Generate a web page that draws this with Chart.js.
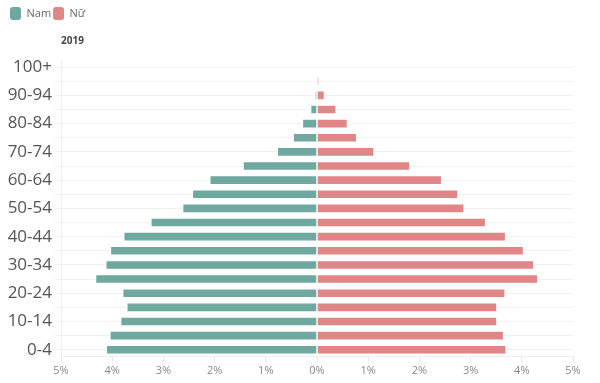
<!DOCTYPE html>
<html>
<head>
<meta charset="utf-8">
<script src="https://cdn.jsdelivr.net/npm/chart.js@4"></script>
<style>
  html, body { margin: 0; padding: 0; background: #fff; }
  #wrap { width: 600px; height: 383px; }
</style>
</head>
<body>
<div id="wrap"><canvas id="canvas"></canvas></div>
<script>
// nhóm tuổi, từ trên xuống
var ageGroups = ["100+","95-99","90-94","85-89","80-84","75-79","70-74","65-69","60-64","55-59",
                 "50-54","45-49","40-44","35-39","30-34","25-29","20-24","15-19","10-14","5-9","0-4"];
// % dân số
var maleValues = [0.005, 0.01, 0.04, 0.13, 0.29, 0.47, 0.78, 1.45, 2.10, 2.44,
                  2.63, 3.25, 3.78, 4.04, 4.13, 4.33, 3.80, 3.72, 3.84, 4.05, 4.12];
var femaleValues = [0.01, 0.04, 0.15, 0.38, 0.60, 0.78, 1.12, 1.82, 2.44, 2.76,
                    2.88, 3.30, 3.69, 4.04, 4.24, 4.32, 3.68, 3.52, 3.52, 3.65, 3.70];
var xTicks = [-5, -4, -3, -2, -1, 0, 1, 2, 3, 4, 5];

Chart.defaults.font.family = "'Open Sans', sans-serif";

window.onload = function(){
    var ctx = document.getElementById("canvas").getContext("2d");
    window.myBar = new Chart(ctx, {
        type: 'bar',
        data: {
            labels: ageGroups,
            datasets: [
                {
                    label: "Nam",
                    data: maleValues.map(function(v){ return -v; }),
                    backgroundColor: '#6fa89f',
                    borderColor: 'rgba(255,255,255,0.9)',
                    borderWidth: 1,
                    barPercentage: 0.68,
                    categoryPercentage: 1
                },
                {
                    label: "Nữ",
                    data: femaleValues,
                    backgroundColor: '#e08686',
                    borderColor: 'rgba(255,255,255,0.9)',
                    borderWidth: 1,
                    barPercentage: 0.68,
                    categoryPercentage: 1
                }
            ]
        },
        options: {
            indexAxis: 'y',
            responsive: true,
            maintainAspectRatio: false,
            animation: false,
            layout: { padding: { left: 8, right: 27, top: 5, bottom: 4 } },
            plugins: {
                legend: {
                    position: 'top',
                    align: 'start',
                    labels: {
                        boxWidth: 11,
                        boxHeight: 13,
                        padding: 2,
                        useBorderRadius: true,
                        borderRadius: 3,
                        color: '#666',
                        font: { size: 11 },
                        generateLabels: function(chart){
                            var items = Chart.defaults.plugins.legend.labels.generateLabels(chart);
                            items.forEach(function(it){ it.strokeStyle = it.fillStyle; it.lineWidth = 0; });
                            return items;
                        }
                    }
                },
                title: {
                    display: true,
                    text: '2019',
                    align: 'start',
                    fullSize: false,
                    weight: 500,
                    color: '#444',
                    font: { size: 10, weight: 'bold' },
                    padding: { top: 5, bottom: 13 }
                },
                tooltip: { enabled: false }
            },
            scales: {
                x: {
                    stacked: true,
                    min: -5,
                    max: 5,
                    afterBuildTicks: function(axis){
                        axis.ticks = xTicks.map(function(v){ return { value: v }; });
                    },
                    grid: {
                        drawOnChartArea: false,
                        color: '#e6e6e6',
                        tickLength: 5
                    },
                    border: { color: '#eeeeee' },
                    ticks: {
                        color: '#888',
                        font: { size: 11 },
                        padding: 2,
                        maxRotation: 0,
                        callback: function(v){ return Math.abs(v) + '%'; }
                    }
                },
                y: {
                    stacked: true,
                    afterFit: function(axis){ axis.width = 53; },
                    grid: {
                        offset: false,
                        color: '#f1f1f1',
                        tickLength: 6
                    },
                    border: { color: '#eeeeee' },
                    ticks: {
                        color: '#555',
                        font: { size: 17 },
                        padding: 3,
                        autoSkip: false,
                        callback: function(v, i){ return i % 2 === 0 ? ageGroups[i] : ''; }
                    }
                }
            }
        }
    });
};
</script>
</body>
</html>
